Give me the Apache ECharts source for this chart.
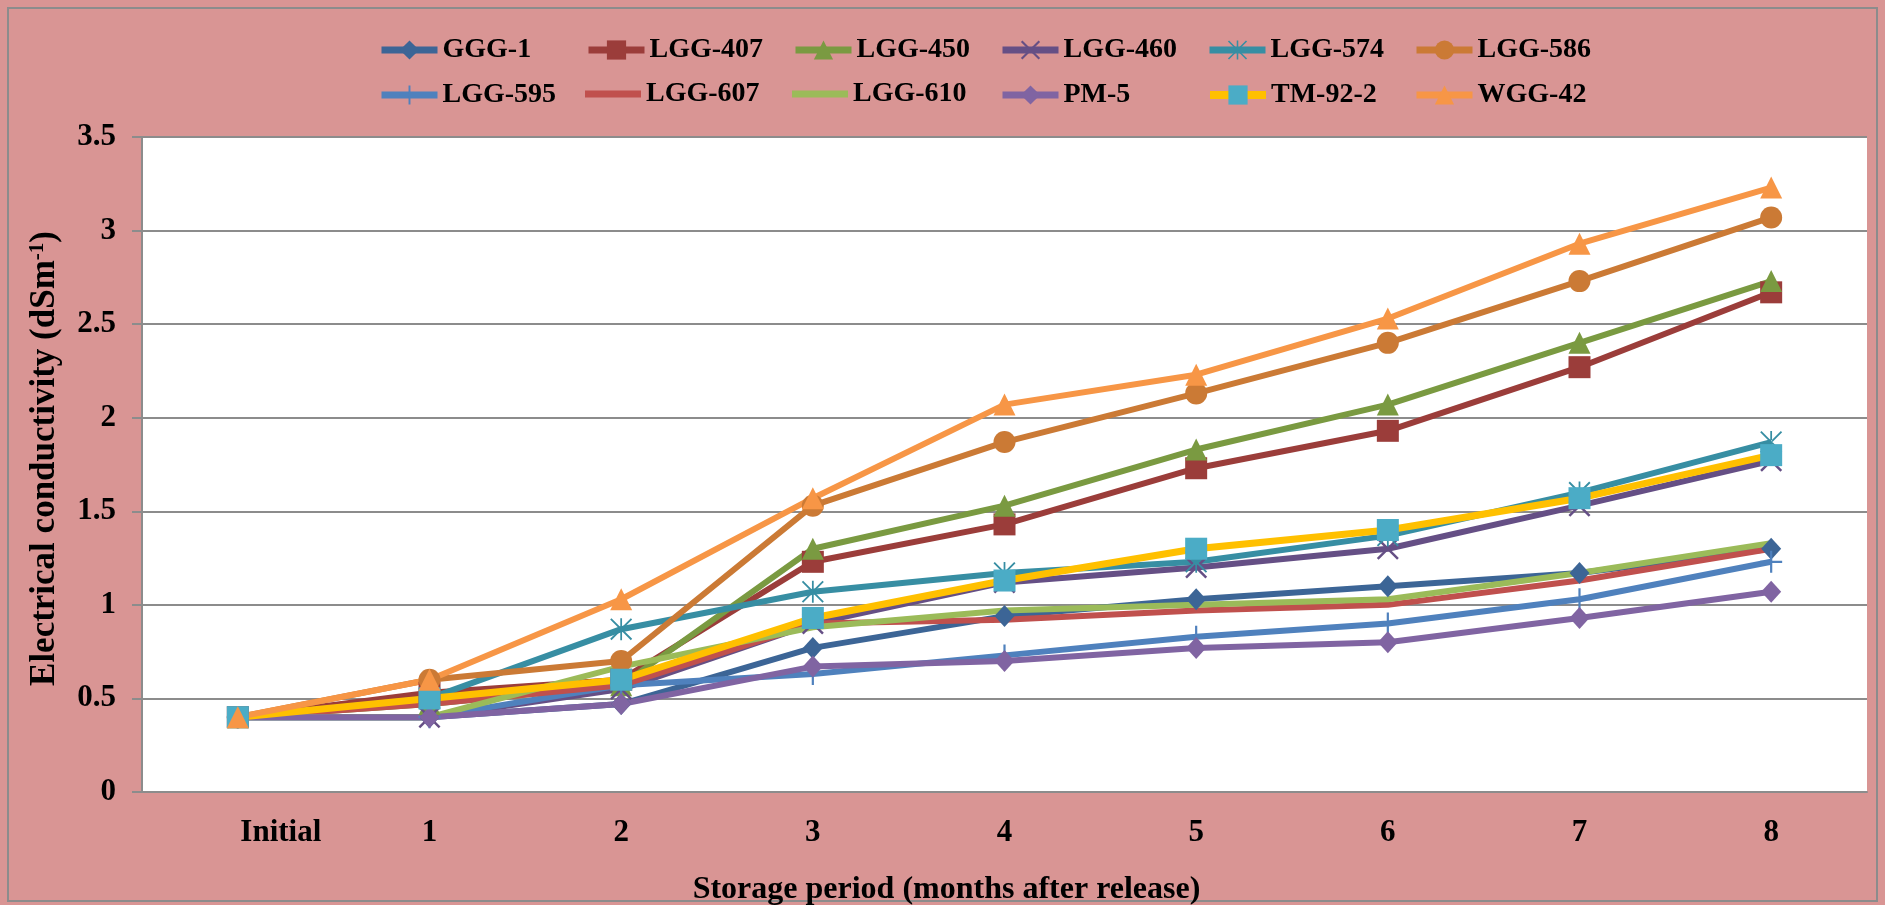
<!DOCTYPE html>
<html>
<head>
<meta charset="utf-8">
<title>Electrical conductivity</title>
<script src="https://cdn.jsdelivr.net/npm/echarts@6/dist/echarts.min.js"></script>
<style>
  html, body { margin: 0; padding: 0; background: #d99594; }
  #chart { width: 1885px; height: 905px; }
</style>
</head>
<body>
<div id="chart"></div>
<script>
// storage months
let months = ["Initial", "1", "2", "3", "4", "5", "6", "7", "8"];

// electrical conductivity (dSm-1) per genotype
let ggg1    = [0.40, 0.40, 0.47, 0.77, 0.94, 1.03, 1.10, 1.17, 1.30];
let lgg407  = [0.40, 0.53, 0.60, 1.23, 1.43, 1.73, 1.93, 2.27, 2.67];
let lgg450  = [0.40, 0.47, 0.57, 1.30, 1.53, 1.83, 2.07, 2.40, 2.73];
let lgg460  = [0.40, 0.40, 0.55, 0.90, 1.12, 1.20, 1.30, 1.53, 1.77];
let lgg574  = [0.40, 0.50, 0.87, 1.07, 1.17, 1.23, 1.37, 1.60, 1.87];
let lgg586  = [0.40, 0.60, 0.70, 1.53, 1.87, 2.13, 2.40, 2.73, 3.07];
let lgg595  = [0.40, 0.40, 0.57, 0.63, 0.73, 0.83, 0.90, 1.03, 1.23];
let lgg607  = [0.40, 0.47, 0.57, 0.90, 0.92, 0.97, 1.00, 1.13, 1.30];
let lgg610  = [0.40, 0.40, 0.67, 0.88, 0.97, 1.00, 1.03, 1.17, 1.33];
let pm5     = [0.40, 0.40, 0.47, 0.67, 0.70, 0.77, 0.80, 0.93, 1.07];
let tm922   = [0.40, 0.50, 0.60, 0.93, 1.13, 1.30, 1.40, 1.57, 1.80];
let wgg42   = [0.40, 0.60, 1.03, 1.57, 2.07, 2.23, 2.53, 2.93, 3.23];

let yTicks = { min: 0, max: 3.5, step: 0.5 };

// marker shapes
let xMark = "path://M0 1.6L1.6 0L20 18.4L18.4 20Z M20 1.6L18.4 0L0 18.4L1.6 20Z";
let starMark = "path://M9.2 0L10.8 0L10.8 20L9.2 20Z M0 1.2L1.2 0L20 18.8L18.8 20Z M20 1.2L18.8 0L0 18.8L1.2 20Z";
let plusMark = "path://M9 0L11 0L11 20L9 20Z M0 9L20 9L20 11L0 11Z";

let font = "'Liberation Serif', 'Times New Roman', serif";

let seriesDefs = [
    { name: "GGG-1",   data: ggg1,   line: "#3c6596", mark: "#3c6596", symbol: "diamond" },
    { name: "LGG-407", data: lgg407, line: "#9b3d3a", mark: "#9b3d3a", symbol: "rect" },
    { name: "LGG-450", data: lgg450, line: "#7a9a41", mark: "#7a9a41", symbol: "triangle" },
    { name: "LGG-460", data: lgg460, line: "#654f85", mark: "#654f85", symbol: xMark },
    { name: "LGG-574", data: lgg574, line: "#378ea3", mark: "#378ea3", symbol: starMark },
    { name: "LGG-586", data: lgg586, line: "#cb7a35", mark: "#cb7a35", symbol: "circle" },
    { name: "LGG-595", data: lgg595, line: "#4f81bd", mark: "#4f81bd", symbol: plusMark },
    { name: "LGG-607", data: lgg607, line: "#c0504d", mark: "#c0504d", symbol: "none" },
    { name: "LGG-610", data: lgg610, line: "#9bbb59", mark: "#9bbb59", symbol: "none" },
    { name: "PM-5",    data: pm5,    line: "#8064a2", mark: "#8064a2", symbol: "diamond" },
    { name: "TM-92-2", data: tm922,  line: "#ffc000", mark: "#4bacc6", symbol: "rect" },
    { name: "WGG-42",  data: wgg42,  line: "#f79646", mark: "#f79646", symbol: "triangle" }
];

let chart = echarts.init(document.getElementById("chart"));

let legends = seriesDefs.map(function(s, i) {
    let plain = s.symbol === "none";
    let h = plain ? 7 : 24;
    let mid = i < 6 ? 48 : 93;
    return {
        data: plain ? [{ name: s.name, icon: "rect" }] : [s.name],
        left: 378 + (i % 6) * 207,
        top: plain ? mid - 13 : mid - h / 2,
        padding: 0,
        itemWidth: 56,
        itemHeight: h,
        itemGap: 5,
        selectedMode: false,
        lineStyle: { width: s.name === "TM-92-2" ? 8 : 7 },
        textStyle: {
            fontFamily: font,
            fontWeight: "bold",
            fontSize: 28,
            color: "#000"
        }
    };
});

let series = seriesDefs.map(function(s) {
    return {
        name: s.name,
        type: "line",
        data: s.data,
        symbol: s.symbol,
        symbolSize: s.symbol === "diamond" ? [20, 22] : 22,
        showAllSymbol: true,
        lineStyle: { color: s.line, width: s.name === "TM-92-2" ? 7 : 6 },
        itemStyle: { color: s.mark },
        emphasis: { disabled: true },
        animation: false
    };
});

let option = {
    backgroundColor: "#d99594",
    animation: false,
    graphic: [{
        type: "rect",
        shape: { x: 8, y: 8, width: 1869, height: 893 },
        style: { fill: "none", stroke: "#8c8c8c", lineWidth: 2 },
        silent: true
    }],
    legend: legends,
    grid: {
        left: 142,
        right: 18,
        top: 137,
        bottom: 113,
        outerBoundsMode: "none",
        containLabel: false,
        show: true,
        backgroundColor: "#ffffff",
        borderWidth: 0
    },
    xAxis: {
        type: "category",
        data: months,
        boundaryGap: true,
        name: "Storage period (months after release)",
        nameLocation: "middle",
        nameGap: 82,
        nameTextStyle: {
            fontFamily: font,
            fontWeight: "bold",
            fontSize: 32,
            color: "#000",
            padding: [0, 116, 0, 0]
        },
        axisLine: { lineStyle: { color: "#8c8c8c", width: 2 } },
        axisTick: { show: false },
        axisLabel: {
            margin: 25,
            fontFamily: font,
            fontWeight: "bold",
            fontSize: 31,
            color: "#000",
            formatter: function(value) {
                return value === "Initial" ? "{i|Initial}" : value;
            },
            rich: {
                i: {
                    fontFamily: font,
                    fontWeight: "bold",
                    fontSize: 31,
                    color: "#000",
                    padding: [0, 0, 0, 86]
                }
            }
        }
    },
    yAxis: {
        type: "value",
        min: yTicks.min,
        max: yTicks.max,
        interval: yTicks.step,
        name: "Electrical conductivity (dSm{sup|-1})",
        nameLocation: "middle",
        nameGap: 80,
        nameRotate: 90,
        nameTextStyle: {
            fontFamily: font,
            fontWeight: "bold",
            fontSize: 35,
            color: "#000",
            padding: [0, 0, 0, 12],
            rich: {
                sup: {
                    fontFamily: font,
                    fontWeight: "bold",
                    fontSize: 21,
                    color: "#000",
                    verticalAlign: "top",
                    padding: [0, 0, 12, 0]
                }
            }
        },
        axisLine: { show: true, lineStyle: { color: "#8c8c8c", width: 2 } },
        axisTick: { show: true, inside: false, length: 10, lineStyle: { color: "#8c8c8c", width: 2 } },
        splitLine: { show: true, lineStyle: { color: "#8c8c8c", width: 2 } },
        axisLabel: {
            margin: 26,
            fontFamily: font,
            fontWeight: "bold",
            fontSize: 31,
            color: "#000"
        }
    },
    series: series
};

chart.setOption(option, true);
window.onresize = () => {
    chart.resize();
};
</script>
</body>
</html>
